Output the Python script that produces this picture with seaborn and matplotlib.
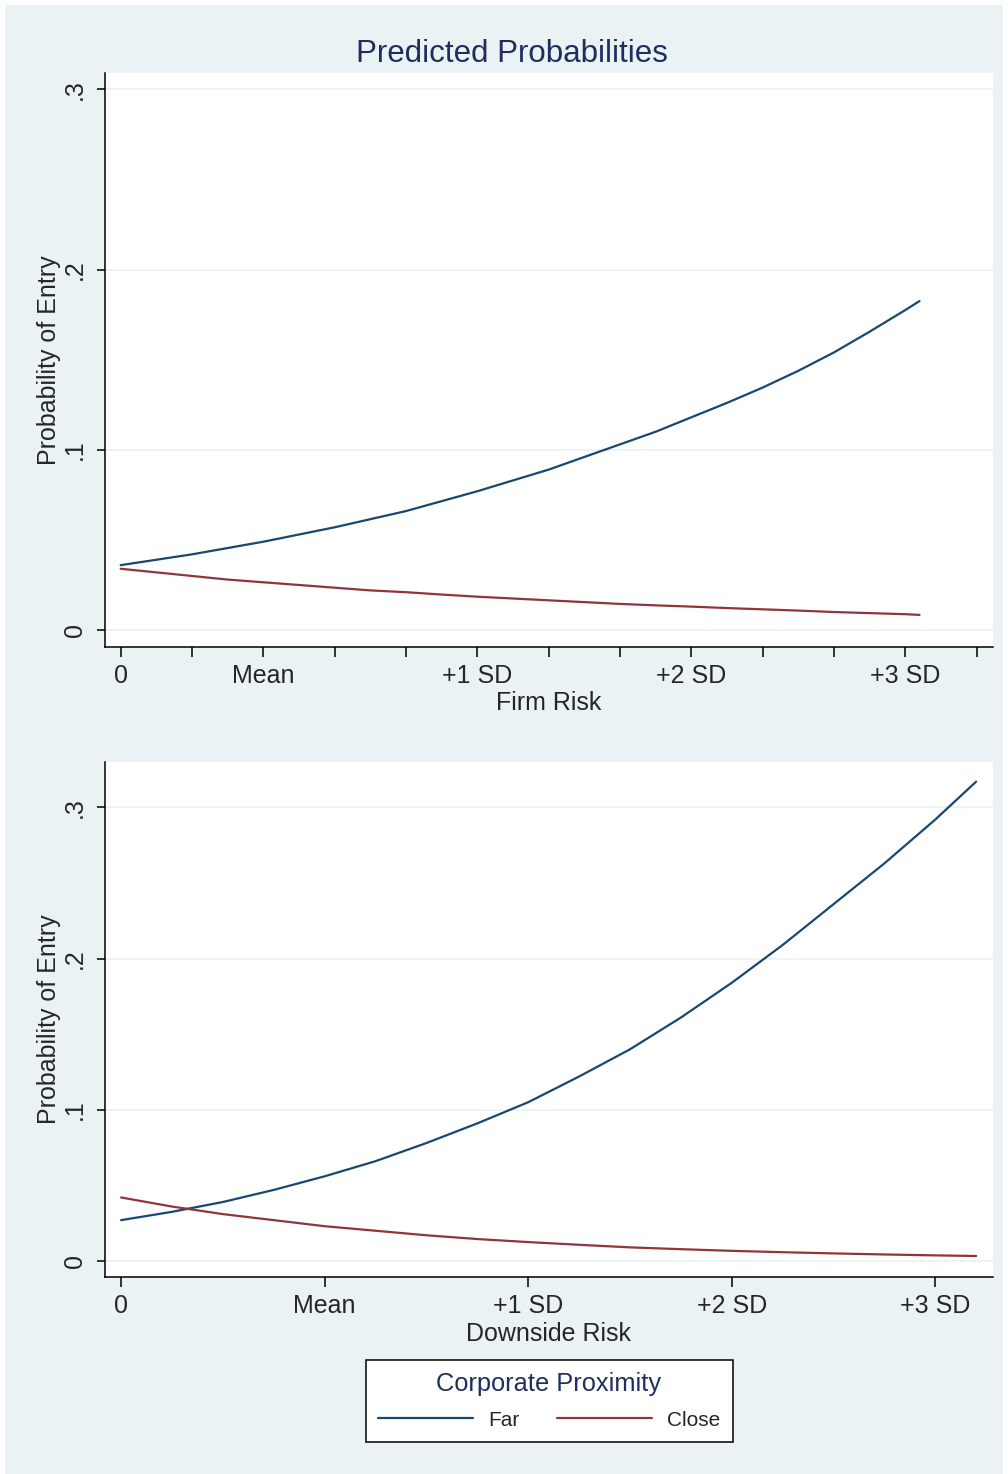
import numpy as np
import pandas as pd
import matplotlib
matplotlib.use("Agg")
import matplotlib.pyplot as plt
import seaborn as sns
from matplotlib.patches import Rectangle

# Data
# top panel: x in tick steps (3 steps = 1 SD, mean at 2 steps)
top_x = [0, 0.5, 1, 1.5, 2, 2.5, 3, 3.5, 4, 4.5, 5, 5.5, 6, 6.5, 7, 7.5, 8, 8.5, 9, 9.5,
         10, 10.5, 11, 11.2]
top_far = [0.036, 0.039, 0.042, 0.0455, 0.049, 0.053, 0.057, 0.0615, 0.066, 0.0715, 0.077,
           0.083, 0.089, 0.096, 0.103, 0.110, 0.118, 0.126, 0.1345, 0.1438, 0.154, 0.1655,
           0.1775, 0.1825]
top_close = [0.034, 0.032, 0.030, 0.028, 0.0265, 0.025, 0.0235, 0.022, 0.021, 0.0197, 0.0185,
             0.0175, 0.0165, 0.0155, 0.0145, 0.0137, 0.013, 0.0122, 0.0115, 0.0108, 0.010,
             0.0094, 0.0088, 0.0084]
top_ticks = [0, 1, 2, 3, 4, 5, 6, 7, 8, 9, 10, 11, 12]
top_ticklabels = ['0', '', 'Mean', '', '', '+1 SD', '', '', '+2 SD', '', '', '+3 SD', '']

# bottom panel: x in SD units (mean at 1)
bot_x = [0, 0.25, 0.5, 0.75, 1, 1.25, 1.5, 1.75, 2, 2.25, 2.5, 2.75, 3, 3.25, 3.5, 3.75, 4, 4.2]
bot_far = [0.027, 0.0325, 0.039, 0.047, 0.056, 0.066, 0.078, 0.091, 0.105, 0.122, 0.140,
           0.161, 0.184, 0.209, 0.236, 0.263, 0.292, 0.317]
bot_close = [0.042, 0.036, 0.031, 0.027, 0.023, 0.020, 0.017, 0.0145, 0.0125, 0.0107, 0.009,
             0.0078, 0.0067, 0.0058, 0.005, 0.0043, 0.0037, 0.0033]
bot_ticks = [0, 1, 2, 3, 4]
bot_ticklabels = ['0', 'Mean', '+1 SD', '+2 SD', '+3 SD']

yticks = [0, 0.1, 0.2, 0.3]
yticklabels = ['0', '.1', '.2', '.3']

BG = '#EAF2F3'
NAVY = '#1A476F'
MAROON = '#90353B'
TITLE = '#1E2F5E'
palette = {'Far': NAVY, 'Close': MAROON}

sns.set_style('white')
plt.rcParams['font.family'] = ['Liberation Sans', 'DejaVu Sans']

W, H = 1008, 1474
fig = plt.figure(figsize=(W / 100, H / 100), dpi=100)
fig.patch.set_facecolor('white')
fig.patches.append(Rectangle((5 / W, 0), 998 / W, 1 - 5 / H, transform=fig.transFigure,
                             facecolor=BG, edgecolor='none', zorder=-10))


def px_axes(left, top, right, bottom):
    return fig.add_axes([left / W, 1 - bottom / H, (right - left) / W, (bottom - top) / H])


def long_df(x, far, close):
    return pd.DataFrame({
        'x': list(x) + list(x),
        'p': list(far) + list(close),
        'prox': ['Far'] * len(x) + ['Close'] * len(x),
    })


def style_axis(ax, xlim, ylim, ticks, ticklabels, xlabel, xlab_y):
    ax.set_facecolor('white')
    ax.set_xlim(*xlim)
    ax.set_ylim(*ylim)
    ax.set_xticks(ticks)
    ax.set_xticklabels(ticklabels, fontsize=18)
    ax.set_yticks(yticks)
    ax.set_yticklabels(yticklabels, fontsize=18, rotation=90, va='center')
    ax.tick_params(axis='x', bottom=True, direction='out', length=7.5, width=1.1,
                   color='black', pad=5)
    ax.tick_params(axis='y', left=True, direction='out', length=6, width=1.1,
                   color='black', pad=7)
    for s in ['top', 'right']:
        ax.spines[s].set_visible(False)
    for s in ['left', 'bottom']:
        ax.spines[s].set_color('black')
        ax.spines[s].set_linewidth(1.1)
    ax.grid(axis='y', color=BG, linewidth=1.3)
    ax.grid(axis='x', visible=False)
    ax.set_axisbelow(True)
    ax.set_xlabel(xlabel, fontsize=18)
    ax.xaxis.set_label_coords(0.5, xlab_y)
    ax.set_ylabel('Probability of Entry', fontsize=18)
    ax.yaxis.set_label_coords(-0.05, 0.5)


# top panel
ax1 = px_axes(105, 73, 993, 647)
sns.lineplot(data=long_df(top_x, top_far, top_close), x='x', y='p', hue='prox',
             palette=palette, linewidth=1.6, ax=ax1, legend=False)
style_axis(ax1, (-0.22, 12.23), (-0.0094, 0.309), top_ticks, top_ticklabels, 'Firm Risk', -0.077)

# bottom panel
ax2 = px_axes(105, 762, 993, 1277)
sns.lineplot(data=long_df(bot_x, bot_far, bot_close), x='x', y='p', hue='prox',
             palette=palette, linewidth=1.6, ax=ax2, legend=False)
style_axis(ax2, (-0.079, 4.283), (-0.0106, 0.33), bot_ticks, bot_ticklabels, 'Downside Risk', -0.087)

fig.text(512 / W, 1 - 54 / H, 'Predicted Probabilities', ha='center', va='center',
         fontsize=22.5, color=TITLE)

# legend
handles = [plt.Line2D([], [], color=palette[k], linewidth=1.6) for k in ['Far', 'Close']]
leg = fig.legend(handles, ['Far', 'Close'], title='Corporate Proximity', ncol=2,
                 loc='center', bbox_to_anchor=(549 / W, 1 - 1401 / H),
                 fontsize=15, title_fontsize=18.3, frameon=True, fancybox=False,
                 edgecolor='black', facecolor='white', framealpha=1,
                 handlelength=4.56, handletextpad=0.72, columnspacing=1.8,
                 borderpad=0.6, labelspacing=0.7)
leg.get_title().set_color(TITLE)
leg.get_frame().set_linewidth(1.1)

fig.savefig('out.png', dpi=100, facecolor=fig.get_facecolor())
